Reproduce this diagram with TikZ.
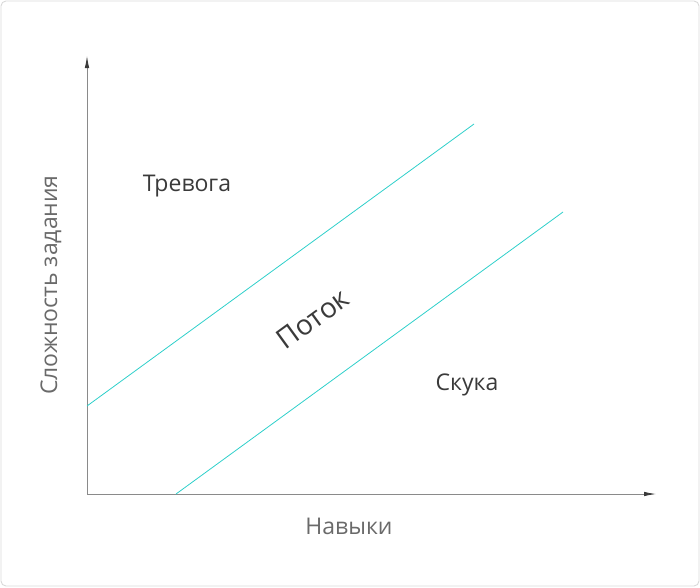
\documentclass[tikz,border=0pt]{standalone}
\usepackage{fontspec}
\setmainfont{Open Sans}
\usetikzlibrary{arrows.meta}
\definecolor{flowline}{HTML}{2ECFCA}
\definecolor{axisgray}{HTML}{8A8A8A}
\definecolor{textdark}{HTML}{3A3A3A}
\definecolor{textgray}{HTML}{6A6A6A}
\begin{document}
\begin{tikzpicture}[x=1pt,y=-1pt,
				every node/.style={inner sep=0pt},
				axis/.style={draw=axisgray,line width=0.8pt,-{Latex[length=12pt,width=4.5pt,color=textdark]}},
				zone/.style={draw=flowline,line width=0.8pt},
				region/.style={text=textdark,font=\fontsize{23}{26}\selectfont},
				axislabel/.style={text=textgray,font=\fontsize{23}{26}\selectfont}]
\draw[rounded corners=5pt,draw=black!15,line width=0.9pt] (1,1) rectangle (699,586);
\useasboundingbox (0,0) rectangle (700,587);
\coordinate (origin) at (87,494);
\coordinate (ytip) at (87,56);
\coordinate (xtip) at (656,494);
\draw[axis] (origin) -- (ytip);
\draw[axis] (origin) -- (xtip);
\coordinate (upperstart) at (87,406);
\coordinate (upperend) at (474,124);
\coordinate (lowerstart) at (176,494);
\coordinate (lowerend) at (563,212);
\draw[zone] (upperstart) -- (upperend);
\draw[zone] (lowerstart) -- (lowerend);
\node[region] (anxiety) at (187,186) {Тревога};
\node[region] (boredom) at (467,385) {Скука};
\node[region,font=\fontsize{28}{32}\selectfont,rotate=36] (flow) at (313,319) {Поток};
\node[axislabel] (skills) at (349,526) {Навыки};
\node[axislabel,rotate=90] (challenge) at (51,285) {Сложность задания};
\end{tikzpicture}
\end{document}
